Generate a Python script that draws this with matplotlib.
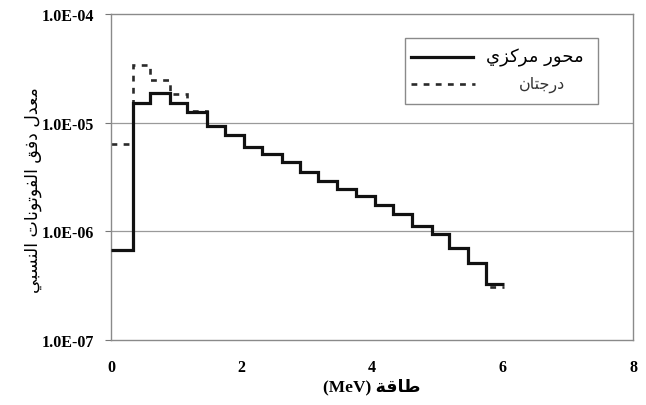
import matplotlib
matplotlib.use("Agg")
import matplotlib.pyplot as plt
from matplotlib.lines import Line2D
from matplotlib.patches import Rectangle

# energy group boundaries (MeV)
edges = [0.0, 0.34, 0.60, 0.90, 1.17, 1.47, 1.75, 2.04, 2.31, 2.62, 2.90,
         3.17, 3.46, 3.76, 4.05, 4.32, 4.61, 4.92, 5.18, 5.47, 5.75, 6.02]

# relative photon flux per group
flux_axis = [6.7e-7, 1.51e-5, 1.88e-5, 1.52e-5, 1.26e-5, 9.3e-6, 7.7e-6,
             6.0e-6, 5.1e-6, 4.3e-6, 3.5e-6, 2.9e-6, 2.46e-6, 2.13e-6,
             1.73e-6, 1.43e-6, 1.12e-6, 9.5e-7, 7.0e-7, 5.1e-7, 3.25e-7]
flux_2deg = [6.4e-6, 3.37e-5, 2.49e-5, 1.85e-5, 1.27e-5, 9.3e-6, 7.7e-6,
             6.0e-6, 5.1e-6, 4.3e-6, 3.5e-6, 2.9e-6, 2.46e-6, 2.13e-6,
             1.73e-6, 1.43e-6, 1.12e-6, 9.5e-7, 7.0e-7, 5.1e-7, 3.05e-7]

x_ticks = [0, 2, 4, 6, 8]
y_ticks = [1e-7, 1e-6, 1e-5, 1e-4]

label_axis = "محور مركزي"
label_2deg = "درجتان"
y_title = "معدل دفق الفوتونات النسبي"
x_title = "طاقة"

# presentation forms: isolated, final, initial, medial
FORMS = {
    "ا": (0xFE8D, 0xFE8E, None, None),
    "ب": (0xFE8F, 0xFE90, 0xFE91, 0xFE92),
    "ة": (0xFE93, 0xFE94, None, None),
    "ت": (0xFE95, 0xFE96, 0xFE97, 0xFE98),
    "ج": (0xFE9D, 0xFE9E, 0xFE9F, 0xFEA0),
    "ح": (0xFEA1, 0xFEA2, 0xFEA3, 0xFEA4),
    "د": (0xFEA9, 0xFEAA, None, None),
    "ر": (0xFEAD, 0xFEAE, None, None),
    "ز": (0xFEAF, 0xFEB0, None, None),
    "س": (0xFEB1, 0xFEB2, 0xFEB3, 0xFEB4),
    "ط": (0xFEC1, 0xFEC2, 0xFEC3, 0xFEC4),
    "ع": (0xFEC9, 0xFECA, 0xFECB, 0xFECC),
    "ف": (0xFED1, 0xFED2, 0xFED3, 0xFED4),
    "ق": (0xFED5, 0xFED6, 0xFED7, 0xFED8),
    "ك": (0xFED9, 0xFEDA, 0xFEDB, 0xFEDC),
    "ل": (0xFEDD, 0xFEDE, 0xFEDF, 0xFEE0),
    "م": (0xFEE1, 0xFEE2, 0xFEE3, 0xFEE4),
    "ن": (0xFEE5, 0xFEE6, 0xFEE7, 0xFEE8),
    "و": (0xFEED, 0xFEEE, None, None),
    "ي": (0xFEF1, 0xFEF2, 0xFEF3, 0xFEF4),
}


def shape(text):
    # join arabic letters and put them in visual (left-to-right) order
    out = []
    for i, ch in enumerate(text):
        if ch not in FORMS:
            out.append(ch)
            continue
        prev = text[i - 1] if i > 0 else ""
        nxt = text[i + 1] if i + 1 < len(text) else ""
        iso, fin, ini, med = FORMS[ch]
        joins_prev = prev in FORMS and FORMS[prev][2] is not None
        joins_next = ini is not None and nxt in FORMS
        if joins_prev and joins_next:
            c = med
        elif joins_prev:
            c = fin
        elif joins_next:
            c = ini
        else:
            c = iso
        out.append(chr(c))
    return "".join(reversed(out))


W, H = 646, 406
fig = plt.figure(figsize=(W / 100, H / 100), dpi=100)
ax = fig.add_axes([111 / W, 1 - 341 / H, 522 / W, 326 / H])

ax.stairs(flux_2deg, edges, baseline=None, color="#2a2a2a", lw=1.9,
          linestyle=(0, (2.2, 2.4)), zorder=2)
ax.stairs(flux_axis, edges, baseline=None, color="#111111", lw=2.3, zorder=3)

ax.set_yscale("log")
ax.set_xlim(0, 8)
ax.set_ylim(1e-7, 1e-4)
ax.set_xticks(x_ticks)
ax.set_yticks(y_ticks)
ax.minorticks_off()
ax.set_xticklabels([str(t) for t in x_ticks])
ax.set_yticklabels([f"{v:.1E}" for v in y_ticks])
ax.tick_params(axis="x", length=0, pad=14)
ax.tick_params(axis="y", length=4, width=0.8, color="#777777", pad=8)
for lab in ax.get_xticklabels() + ax.get_yticklabels():
    lab.set_fontfamily("Liberation Serif")
    lab.set_fontweight("bold")
    lab.set_fontsize(11.5)

for y in y_ticks[1:3]:
    ax.axhline(y, color="#9a9a9a", lw=0.9, zorder=1)
for s in ax.spines.values():
    s.set_color("#8a8a8a")
    s.set_linewidth(1.0)

# axis titles
fig.text(33 / W, 1 - 190 / H, shape(y_title), rotation=90, ha="center",
         va="center", family=["DejaVu Sans"], fontsize=12.5)
fig.text(372 / W, 1 - 387 / H, "(MeV) " + shape(x_title), ha="center",
         va="center", family=["Liberation Serif", "DejaVu Sans"],
         fontweight="bold", fontsize=12.5)

# legend box
fig.patches.append(Rectangle((405 / W, 1 - 105 / H), 193 / W, 66 / H,
                             transform=fig.transFigure, facecolor="white",
                             edgecolor="#8a8a8a", lw=1.0, zorder=5))
fig.lines.append(Line2D([411 / W, 473 / W], [1 - 58 / H, 1 - 58 / H],
                        transform=fig.transFigure, color="#111111", lw=2.3,
                        zorder=6))
fig.lines.append(Line2D([411 / W, 475 / W], [1 - 85 / H, 1 - 85 / H],
                        transform=fig.transFigure, color="#2a2a2a", lw=1.9,
                        linestyle=(0, (2.2, 2.4)), zorder=6))
fig.text(535 / W, 1 - 58 / H, shape(label_axis), ha="center", va="center",
         family=["DejaVu Sans"], fontsize=13, zorder=7)
fig.text(542 / W, 1 - 85 / H, shape(label_2deg), ha="center", va="center",
         family=["DejaVu Sans"], fontsize=11.5, color="#333333", zorder=7)

fig.savefig("out.png", dpi=100, facecolor="white")
